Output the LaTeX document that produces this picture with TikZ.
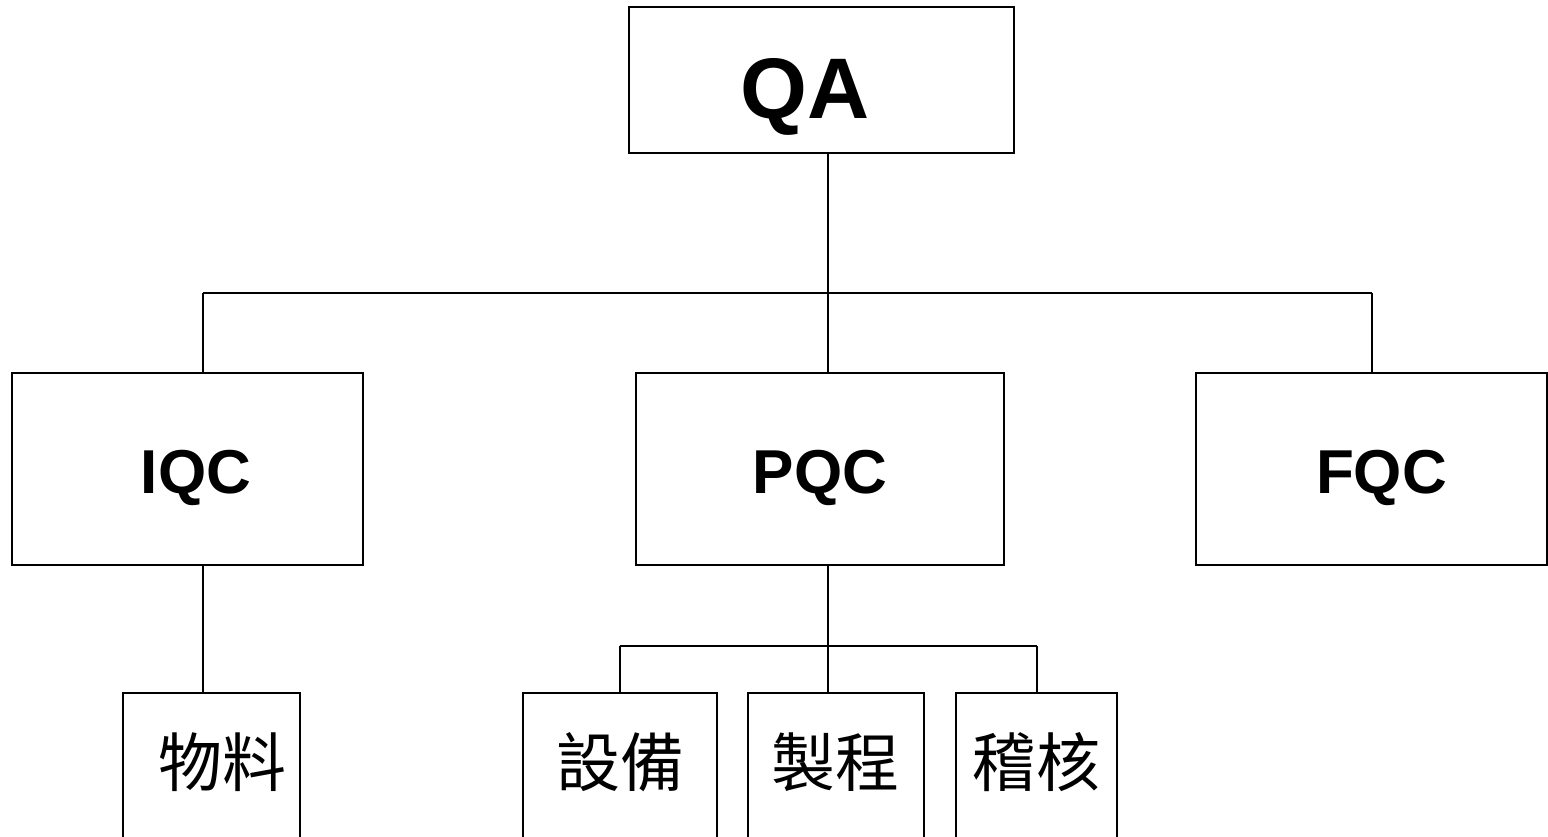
\documentclass[tikz,border=0pt]{standalone}
\usepackage{fontspec}
\setmainfont{Liberation Sans}
\newfontfamily\cjk{Noto Sans CJK TC}
\begin{document}
\begin{tikzpicture}[x=0.5pt,y=-0.5pt,
  box/.style={draw=black, line width=0.9pt, inner sep=0pt, outer sep=0pt, fill=white},
  wire/.style={draw=black, line width=0.9pt},
  lat/.style={anchor=base, inner sep=0pt, font=\bfseries\fontsize{31}{36}\selectfont},
  han/.style={anchor=center, inner sep=0pt, font=\cjk\fontsize{32}{38}\selectfont}]
\useasboundingbox (0,0) rectangle (1548,836);
\fill[white] (0,0) rectangle (1548,836);
\clip (0,0) rectangle (1548,836);
% boxes
\node[box, minimum width=192.5pt, minimum height=73pt] (QA) at (821.5,80) {};
\node[box, minimum width=175.5pt, minimum height=96pt] (IQC) at (187.5,469) {};
\node[box, minimum width=184pt, minimum height=96pt] (PQC) at (820,469) {};
\node[box, minimum width=175.5pt, minimum height=96pt] (FQC) at (1371.5,469) {};
\node[box, minimum width=88.5pt, minimum height=83.5pt] (M1) at (211.5,776.5) {};
\node[box, minimum width=97pt, minimum height=83.5pt] (B1) at (620,776.5) {};
\node[box, minimum width=88pt, minimum height=83.5pt] (B2) at (836,776.5) {};
\node[box, minimum width=80.5pt, minimum height=83.5pt] (B3) at (1036.5,776.5) {};
% junctions
\coordinate (jL) at (203,293);
\coordinate (jM) at (828,293);
\coordinate (jR) at (1372,293);
\coordinate (kL) at (620,646);
\coordinate (kM) at (828,646);
\coordinate (kR) at (1037,646);
% connectors
\draw[wire] (QA.south -| jM) -- (jM);
\draw[wire] (jL) -- (jR);
\draw[wire] (jL) -- (jL |- IQC.north);
\draw[wire] (jM) -- (jM |- PQC.north);
\draw[wire] (jR) -- (jR |- FQC.north);
\draw[wire] (IQC.south -| jL) -- (jL |- M1.north);
\draw[wire] (PQC.south -| kM) -- (kM |- B2.north);
\draw[wire] (kL) -- (kR);
\draw[wire] (kL) -- (kL |- B1.north);
\draw[wire] (kR) -- (kR |- B3.north);
% texts
\node[lat, font=\bfseries\fontsize{43}{50}\selectfont] (tQA) at (805,118) {QA};
\node[lat] (tIQC) at (196,493) {IQC};
\node[lat] (tPQC) at (820,493) {PQC};
\node[lat] (tFQC) at (1381.5,493) {FQC};
\node[han] (tM1) at (222,762) {物料};
\node[han] (tB1) at (620,762) {設備};
\node[han] (tB2) at (835,762) {製程};
\node[han] (tB3) at (1036,762) {稽核};
\end{tikzpicture}
\end{document}
